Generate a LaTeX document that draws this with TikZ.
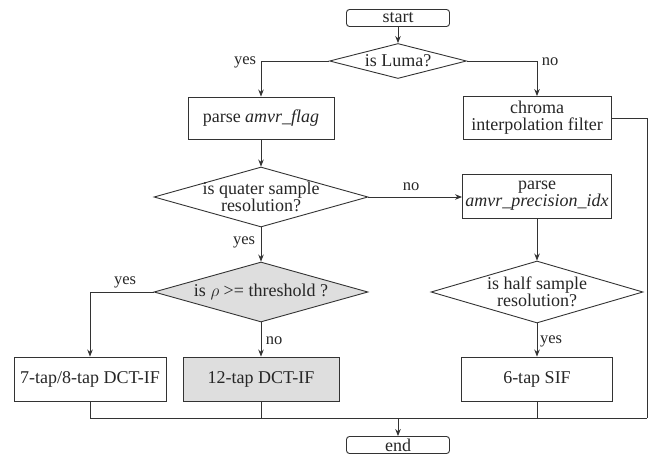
\documentclass[tikz,border=0pt]{standalone}
\usepackage{fontspec}
\setmainfont{Liberation Serif}
\usetikzlibrary{shapes.geometric,arrows.meta}
\begin{document}
\begin{tikzpicture}[x=1pt,y=-1pt,
  every node/.style={font=\fontsize{18}{20}\selectfont, text=black!85},
  ln/.style={draw=black!80, line width=0.9pt},
  arr/.style={ln, -{Stealth[length=7pt,width=5.5pt]}},
  box/.style={rectangle, draw=black!80, line width=0.9pt, inner sep=0pt, align=center},
  term/.style={box, rounded corners=3pt, minimum width=103pt, minimum height=17pt},
  dia/.style={diamond, draw=black!80, line width=0.9pt, inner sep=0pt},
  lab/.style={font=\fontsize{16.5}{19}\selectfont, inner sep=0pt},
  gfill/.style={fill=black!13}]
\useasboundingbox (0,0) rectangle (656,455);

\node[term] (start) at (398,18) {start};
\node[dia, minimum width=137pt, minimum height=35pt] (luma) at (398,61) {};
\node at (luma) {is Luma?};
\node[box, minimum width=146pt, minimum height=42pt] (flag) at (261,118) {parse \textit{amvr\_flag}};
\node[box, minimum width=148pt, minimum height=43pt] (chroma) at (537,118) {chroma\\[-3pt]interpolation filter};
\node[dia, minimum width=214pt, minimum height=60pt] (q) at (261,197) {};
\node[align=center] at (q) {is quater sample\\[-3pt]resolution?};
\node[box, minimum width=149pt, minimum height=44pt] (prec) at (537,196) {parse\\[-3pt]\textit{amvr\_precision\_idx}};
\node[dia, gfill, minimum width=214pt, minimum height=60pt] (rho) at (261,292) {};
\node at (rho) {is $\rho$ >= threshold ?};
\node[dia, minimum width=212pt, minimum height=62pt] (half) at (537,292) {};
\node[align=center] at (half) {is half sample\\[-3pt]resolution?};
\node[box, minimum width=152pt, minimum height=44pt] (c7) at (90,379) {7-tap/8-tap DCT-IF};
\node[box, gfill, minimum width=156pt, minimum height=44pt] (c12) at (261,379) {12-tap DCT-IF};
\node[box, minimum width=151pt, minimum height=44pt] (sif) at (537,379) {6-tap SIF};
\node[term] (end) at (398,445) {end};

\coordinate (mL) at (90,418);
\coordinate (mR) at (647,418);
\coordinate (m) at (398,418);

\draw[arr] (start) -- (luma);
\draw[arr] (luma.west) -| (flag);
\draw[arr] (luma.east) -| (chroma);
\draw[arr] (flag) -- (q);
\draw[arr] (q.east) -- (q.east -| prec.west);
\draw[arr] (q) -- (rho);
\draw[arr] (prec) -- (half);
\draw[arr] (rho.west) -| (c7);
\draw[arr] (rho) -- (c12);
\draw[arr] (half) -- (sif);
\draw[ln] (c7.south) -- (mL) -- (mR);
\draw[ln] (c12.south) -- (c12.south |- m);
\draw[ln] (sif.south) -- (sif.south |- m);
\draw[ln] (chroma.east) -| (mR);
\draw[arr] (m) -- (end);

\node[lab] at (245,62) {yes};
\node[lab] at (550,62) {no};
\node[lab] at (411,187) {no};
\node[lab] at (244,242) {yes};
\node[lab] at (125,282) {yes};
\node[lab] at (274,341) {no};
\node[lab] at (551,341) {yes};
\end{tikzpicture}
\end{document}
